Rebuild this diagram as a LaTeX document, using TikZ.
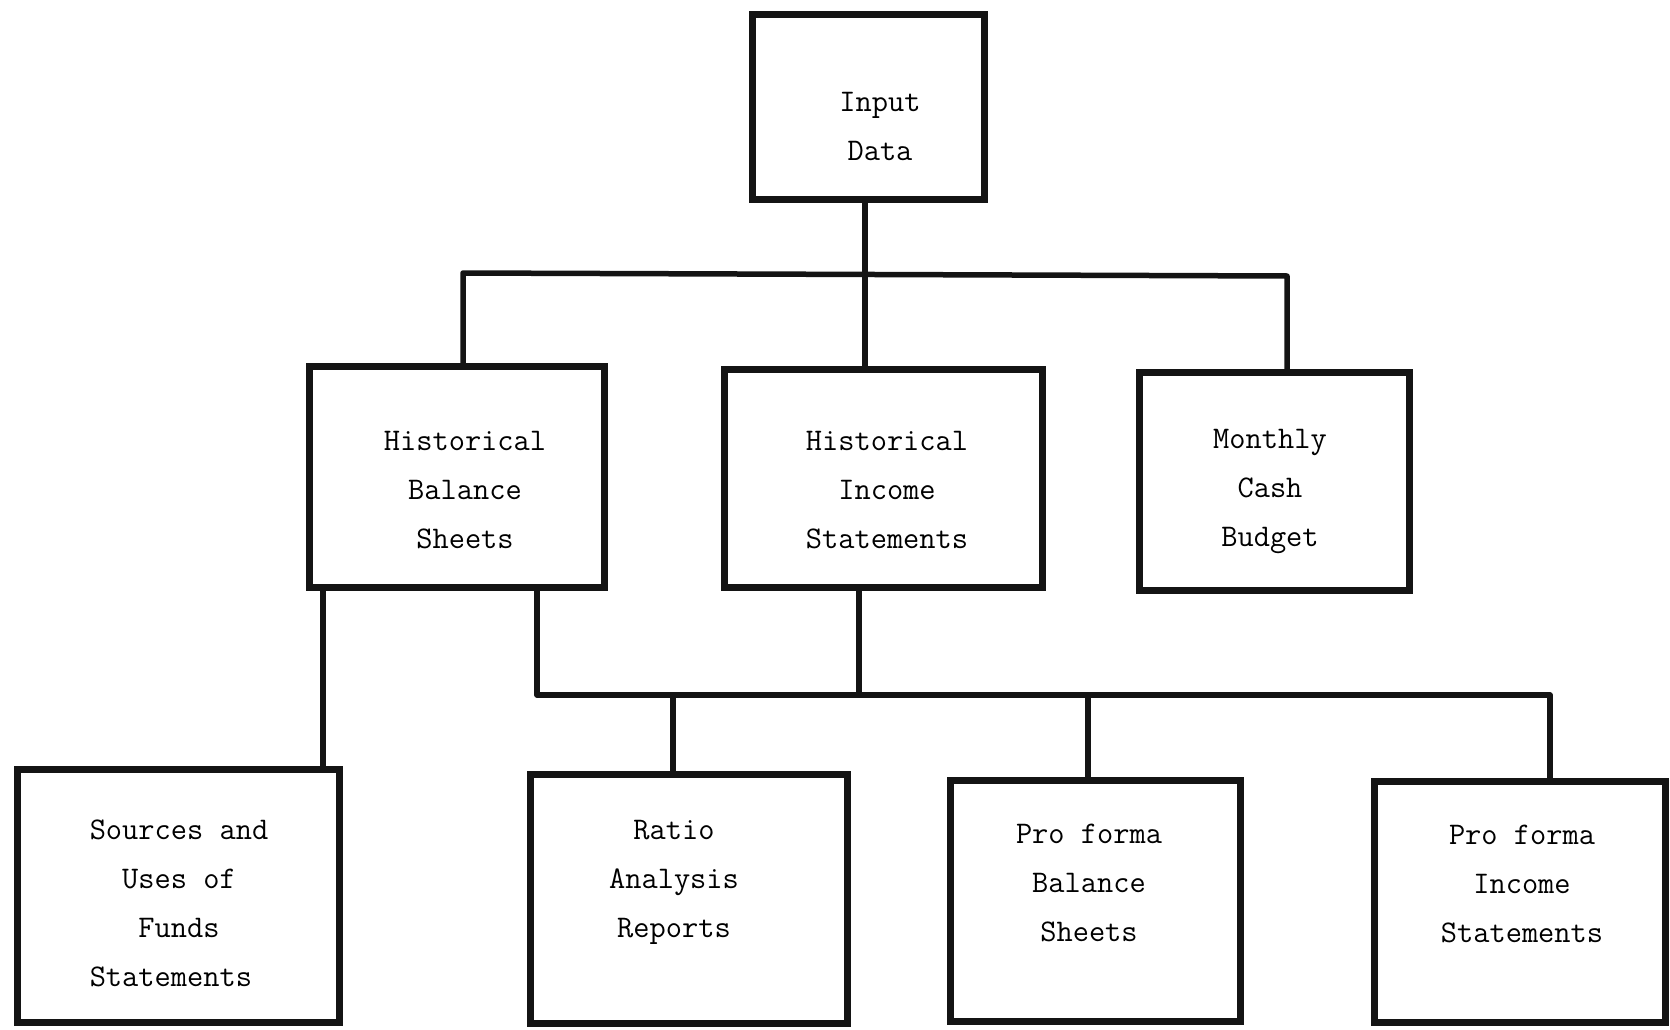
\documentclass[tikz,border=0pt]{standalone}
\usepackage{fontspec}
\begin{document}
\begin{tikzpicture}[x=1pt,y=-1pt,
  boxnode/.style={draw=black!92,line width=6.5pt,rectangle,inner sep=0pt},
  lbl/.style={font=\fontsize{31.5}{49}\selectfont\ttfamily,align=center,inner sep=0pt},
  conn/.style={draw=black!92,line width=5.5pt,line cap=round,line join=round}]
\useasboundingbox (0,0) rectangle (1670,1030);
% boxes
\node[boxnode,minimum width=232pt,minimum height=185pt] (in)  at (868.5,107) {};
\node[boxnode,minimum width=295pt,minimum height=221pt] (hbs) at (457,477) {};
\node[boxnode,minimum width=318pt,minimum height=218pt] (his) at (883.5,478.5) {};
\node[boxnode,minimum width=270pt,minimum height=218pt] (mcb) at (1274.5,481.5) {};
\node[boxnode,minimum width=322pt,minimum height=253pt] (suf) at (178.5,896) {};
\node[boxnode,minimum width=317pt,minimum height=249pt] (rat) at (689,899) {};
\node[boxnode,minimum width=290pt,minimum height=241pt] (pfb) at (1095.5,901) {};
\node[boxnode,minimum width=291pt,minimum height=241pt] (pfi) at (1520,902) {};
% labels
\node[lbl] (in-t)  at (880,126) {Input\\Data};
\node[lbl] (hbs-t) at (465,490) {Historical\\Balance\\Sheets};
\node[lbl] (his-t) at (887,490) {Historical\\Income\\Statements};
\node[lbl] (mcb-t) at (1270,491) {Monthly\\Cash\\Budget};
\node[lbl,align=left] (suf-t) at (179,903) {Sources and\\\ \ Uses of\\\ \ \ Funds\\Statements};
\node[lbl] (rat-t) at (674,882) {Ratio\\Analysis\\Reports};
\node[lbl] (pfb-t) at (1089,883) {Pro forma\\Balance\\Sheets};
\node[lbl] (pfi-t) at (1522,884) {Pro forma\\Income\\Statements};
% junction coordinates
\coordinate (j1) at (865,274);
\coordinate (jL) at (463,273);
\coordinate (jR) at (1287,276);
\coordinate (k1) at (537,695);
\coordinate (k2) at (1550,695);
\coordinate (k3) at (859,695);
\coordinate (k4) at (673,695);
\coordinate (k5) at (1088,695);
\coordinate (s1) at (323,0);
% upper tree
\draw[conn] (in.south -| j1) -- (j1 |- his.north);
\draw[conn] (jL |- hbs.north) -- (jL) -- (jR) -- (jR |- mcb.north);
% lower tree
\draw[conn] (hbs.south -| s1) -- (s1 |- suf.north);
\draw[conn] (hbs.south -| k1) -- (k1) -- (k2) -- (k2 |- pfi.north);
\draw[conn] (his.south -| k3) -- (k3);
\draw[conn] (k4) -- (k4 |- rat.north);
\draw[conn] (k5) -- (k5 |- pfb.north);
\end{tikzpicture}
\end{document}
